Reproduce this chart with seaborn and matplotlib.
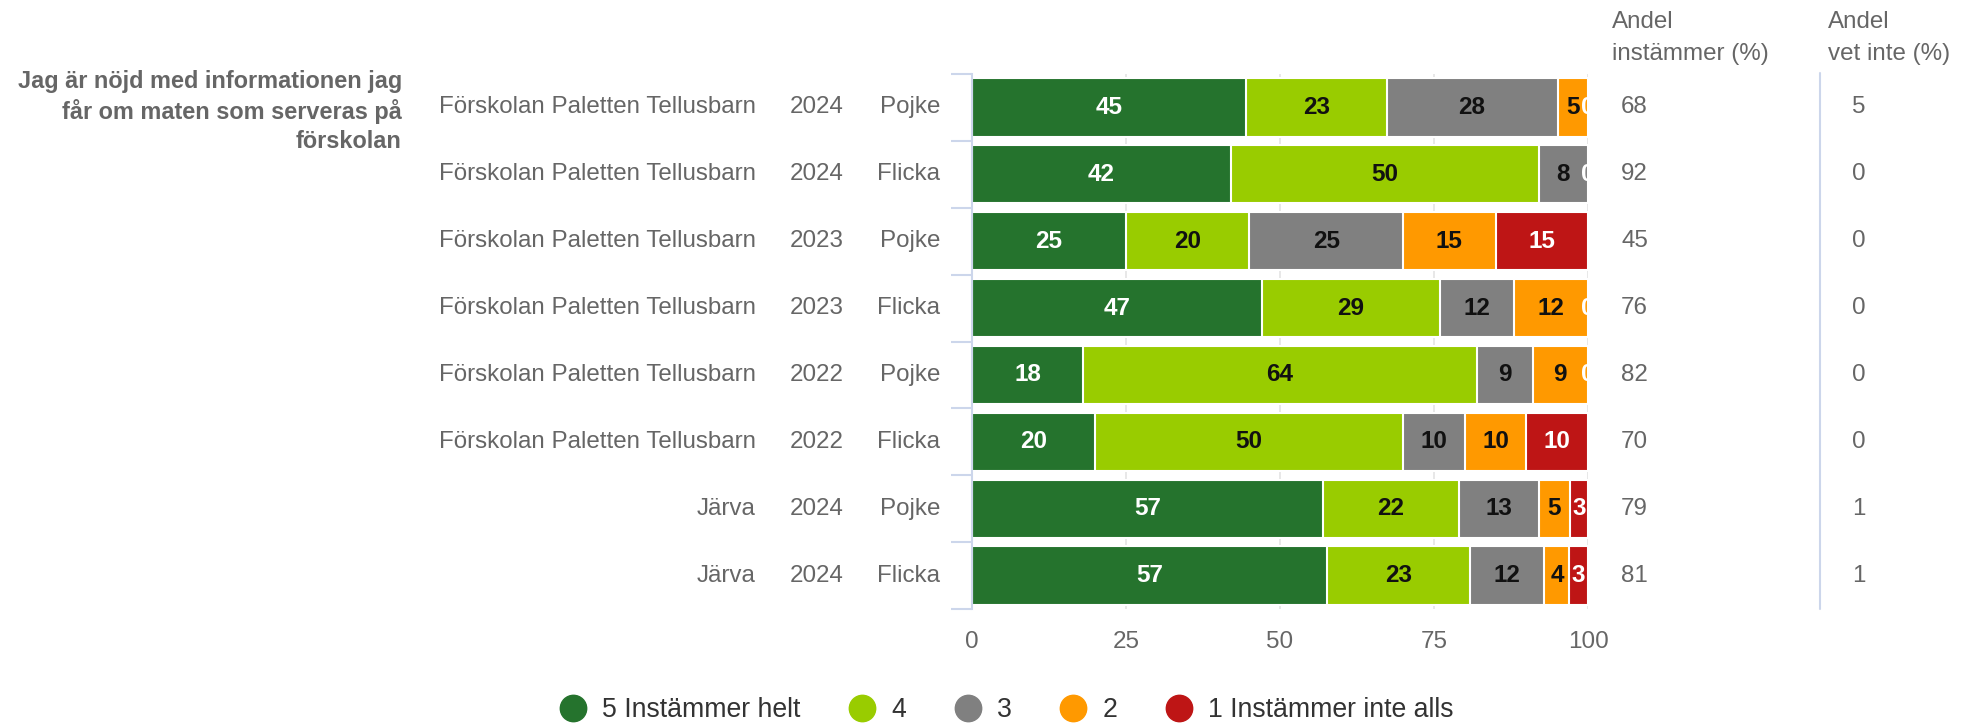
import numpy as np
import pandas as pd
import matplotlib
matplotlib.use("Agg")
import matplotlib.pyplot as plt
import matplotlib.transforms as mtransforms
from matplotlib.lines import Line2D
import seaborn as sns

# data
schools = ["Förskolan Paletten Tellusbarn"] * 6 + ["Järva"] * 2
years = ["2024", "2024", "2023", "2023", "2022", "2022", "2024", "2024"]
genders = ["Pojke", "Flicka", "Pojke", "Flicka", "Pojke", "Flicka", "Pojke", "Flicka"]
s5 = [45, 42, 25, 47, 18, 20, 57, 57]
s4 = [23, 50, 20, 29, 64, 50, 22, 23]
s3 = [28, 8, 25, 12, 9, 10, 13, 12]
s2 = [5, 0, 15, 12, 9, 10, 5, 4]
s1 = [0, 0, 15, 0, 0, 10, 3, 3]
andel_instammer = [68, 92, 45, 76, 82, 70, 79, 81]
andel_vet_inte = [5, 0, 0, 0, 0, 0, 1, 1]
series_names = ["5 Instämmer helt", "4", "3", "2", "1 Instämmer inte alls"]
colors = ["#25732d", "#99cc00", "#808080", "#ff9900", "#be1515"]
label_colors = ["white", "#111111", "#111111", "#111111", "white"]
question = "Jag är nöjd med informationen jag\nfår om maten som serveras på\nförskolan"

sns.set_style("white")
plt.rcParams["font.family"] = ["Liberation Sans", "DejaVu Sans"]

vals = np.array([s5, s4, s3, s2, s1], dtype=float)
pct = vals / vals.sum(axis=0) * 100
cum = np.cumsum(pct, axis=0)
ids = [str(i) for i in range(len(schools))]

fig = plt.figure(figsize=(19.7, 7.27), dpi=100)
ax = fig.add_axes([972 / 1970, 1 - 609 / 727, 616 / 1970, 535 / 727])

# stacked bars: draw cumulative totals from the largest down
for k in range(len(series_names) - 1, -1, -1):
    df = pd.DataFrame({"val": cum[k], "row": ids})
    sns.barplot(data=df, x="val", y="row", orient="h", color=colors[k],
                saturation=1, width=0.87, edgecolor="white", linewidth=1.5,
                errorbar=None, ax=ax)

# segment labels
for k in range(len(series_names)):
    for i in range(len(ids)):
        v = vals[k, i]
        if v == 0 and k < len(series_names) - 1:
            continue
        left = cum[k, i] - pct[k, i]
        ax.text(left + pct[k, i] / 2, i, f"{int(v)}", ha="center", va="center",
                color=label_colors[k], fontsize=17.5, fontweight="bold",
                clip_on=True, zorder=5)

ax.set_xlim(0, 100)
ax.set_ylim(len(ids) - 0.5, -0.5)
ax.set_xticks([0, 25, 50, 75, 100])
ax.set_xlabel("")
ax.set_ylabel("")
ax.set_axisbelow(True)
ax.grid(axis="x", color="#e6e6e6", linewidth=1.3)
ax.grid(axis="y", visible=False)
ax.tick_params(axis="x", length=0, pad=16, labelsize=17.5, labelcolor="#666666")
ax.set_yticks(np.arange(-0.5, len(ids), 1.0))
ax.set_yticklabels([])
ax.tick_params(axis="y", length=15, width=1.5, color="#ccd6eb", left=True)
for side in ["top", "right", "bottom"]:
    ax.spines[side].set_visible(False)
ax.spines["left"].set_color("#ccd6eb")
ax.spines["left"].set_linewidth(1.5)

# row labels on the left, values on the right
fs = 17.4
trans = mtransforms.blended_transform_factory(fig.transFigure, ax.transData)
for i in range(len(ids)):
    ax.text(756 / 1970, i, schools[i], transform=trans, ha="right", va="center",
            fontsize=fs, color="#666666")
    ax.text(817 / 1970, i, years[i], transform=trans, ha="center", va="center",
            fontsize=fs, color="#666666")
    ax.text(940 / 1970, i, genders[i], transform=trans, ha="right", va="center",
            fontsize=fs, color="#666666")
    ax.text(1621 / 1970, i, str(andel_instammer[i]), transform=trans, ha="left",
            va="center", fontsize=fs, color="#666666")
    ax.text(1859 / 1970, i, str(andel_vet_inte[i]), transform=trans, ha="center",
            va="center", fontsize=fs, color="#666666")

ax.text(402 / 1970, 0.06, question, transform=trans, ha="right", va="center",
        multialignment="right", fontsize=16.9, fontweight="bold", color="#666666",
        linespacing=1.33)

fig.text(1612 / 1970, 1 - 11 / 727, "Andel\ninstämmer (%)", ha="left", va="top",
         fontsize=fs, color="#666666", linespacing=1.58)
fig.text(1828 / 1970, 1 - 11 / 727, "Andel\nvet inte (%)", ha="left", va="top",
         fontsize=fs, color="#666666", linespacing=1.58)
fig.add_artist(Line2D([1820 / 1970, 1820 / 1970], [1 - 73 / 727, 1 - 609 / 727],
                      transform=fig.transFigure, color="#ccd6eb", linewidth=1.5))

handles = [Line2D([], [], marker="o", linestyle="", markersize=19,
                  markerfacecolor=c, markeredgecolor=c) for c in colors]
fig.legend(handles, series_names, loc="center", bbox_to_anchor=(0.511, 1 - 710 / 727),
           ncol=5, frameon=False, fontsize=19.2, handlelength=1.0, handletextpad=0.6,
           columnspacing=1.8, labelcolor="#333333")

fig.savefig("out.png", dpi=100)
